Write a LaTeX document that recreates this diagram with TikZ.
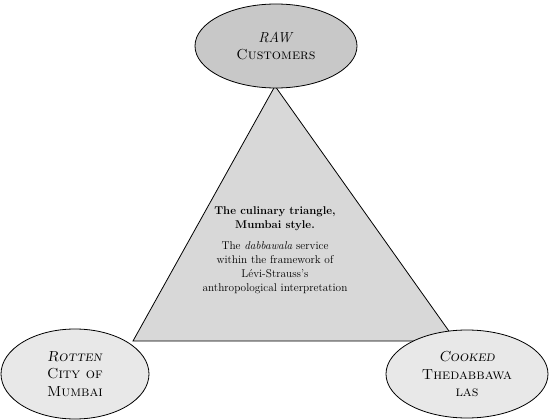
\documentclass[tikz,border=0pt]{standalone}
\usepackage{tikz}
\usetikzlibrary{shapes.geometric, positioning, backgrounds}
\definecolor{topgray}{RGB}{200,200,200}
\definecolor{trigray}{RGB}{216,216,216}
\definecolor{lightgray}{RGB}{232,232,232}
\tikzset{
    pole/.style={ellipse, draw=black, thick, inner sep=0pt, align=center, font=\fontsize{14.5}{17.5}\selectfont},
    triangle/.style={draw=black, thick, fill=trigray, line join=miter},
    caption/.style={align=center, font=\fontsize{11.3}{14}\selectfont},
}

\begin{document}
\begin{tikzpicture}[x=1pt, y=-1pt]
\useasboundingbox (0,0) rectangle (550,420);

% Triangle corners
\coordinate (apex) at (275,86);
\coordinate (bl) at (133,341);
\coordinate (br) at (456,341);
\draw[triangle] (apex) -- (bl) -- (br) -- cycle;

% Poles of the culinary triangle
\node[pole, fill=topgray, minimum width=162pt, minimum height=84pt] (raw) at (276,46) {\textit{RAW}\\\textsc{Customers}};
\node[pole, fill=lightgray, minimum width=148pt, minimum height=90pt] (rotten) at (75,374) {\textsc{\textit{Rotten}}\\\textsc{City of}\\\textsc{Mumbai}};
\node[pole, fill=lightgray, minimum width=162pt, minimum height=88pt] (cooked) at (467,374) {\textsc{\textit{Cooked}}\\\textsc{Thedabbawa}\\\textsc{las}};

% Text inside
\node[caption, font=\fontsize{11.3}{14}\selectfont\bfseries] (title) at (275,219) {The culinary triangle,\\Mumbai style.};
\node[caption, below=4pt of title] (desc) {The \textit{dabbawala} service\\within the framework of\\L\'evi-Strauss's\\anthropological interpretation};

\end{tikzpicture}
\end{document}
